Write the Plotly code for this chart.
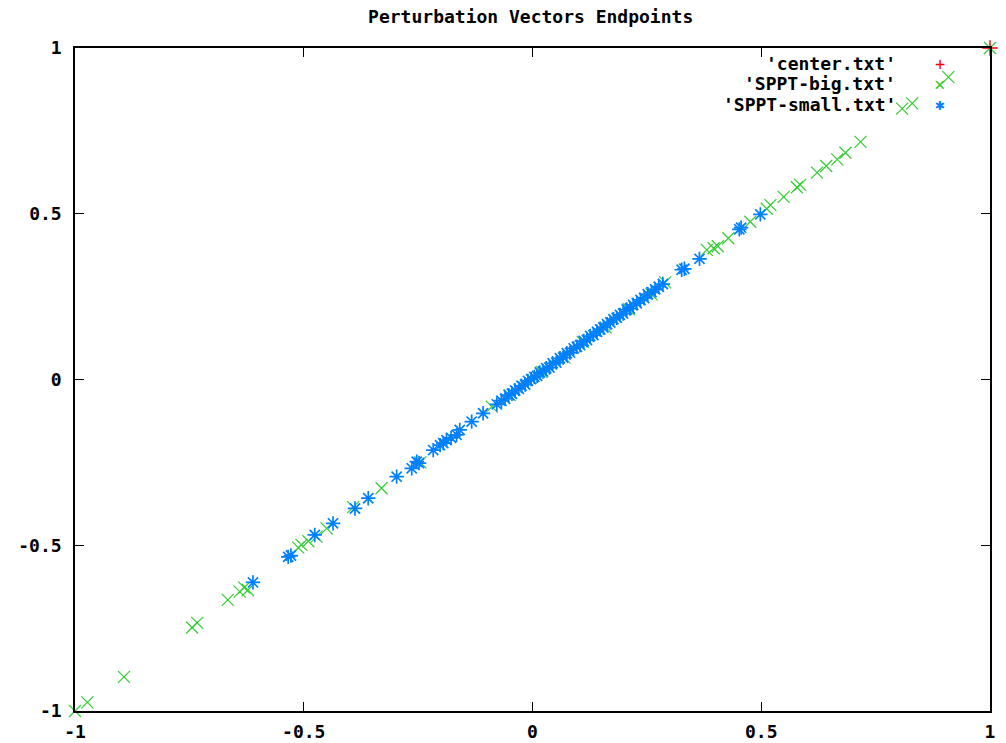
import plotly.graph_objects as go

title_text = "Perturbation Vectors Endpoints"
tick_vals = [-1, -0.5, 0, 0.5, 1]
tick_text = ["-1", "-0.5", "0", "0.5", "1"]

center_x = [1.0]
center_y = [1.0]

big_x = [-1.0, -0.973, -0.893, -0.744, -0.733, -0.666, -0.640, -0.630, -0.622, -0.512,
         -0.505, -0.490, -0.472, -0.450, -0.392, -0.330, -0.245, -0.089, -0.050, 0.020,
         0.070, 0.110, 0.160, 0.210, 0.260, 0.290, 0.381, 0.396, 0.405, 0.428,
         0.476, 0.512, 0.520, 0.549, 0.578, 0.585, 0.622, 0.642, 0.666, 0.684,
         0.717, 0.808, 0.830, 0.909, 1.0]
big_y = [-1.0, -0.974, -0.897, -0.748, -0.734, -0.665, -0.640, -0.628, -0.635, -0.507,
         -0.499, -0.488, -0.474, -0.449, -0.385, -0.328, -0.250, -0.082, -0.047, 0.023,
         0.066, 0.113, 0.157, 0.212, 0.257, 0.293, 0.391, 0.396, 0.402, 0.426,
         0.476, 0.515, 0.526, 0.551, 0.580, 0.587, 0.624, 0.644, 0.664, 0.684,
         0.717, 0.817, 0.833, 0.912, 1.0]

small_x = [-0.611, -0.534, -0.528, -0.476, -0.436, -0.388, -0.359, -0.297, -0.264, -0.253,
           -0.248, -0.217, -0.202, -0.195, -0.188, -0.178, -0.166, -0.159, -0.133, -0.108,
           -0.078, -0.068, -0.060, -0.052, -0.045, -0.038, -0.030, -0.024, -0.016, -0.010,
           -0.003, 0.004, 0.010, 0.016, 0.023, 0.030, 0.037, 0.044, 0.052, 0.060,
           0.067, 0.075, 0.082, 0.090, 0.097, 0.104, 0.112, 0.119, 0.126, 0.133,
           0.141, 0.148, 0.155, 0.163, 0.170, 0.177, 0.184, 0.191, 0.198, 0.206,
           0.213, 0.220, 0.228, 0.236, 0.244, 0.252, 0.260, 0.268, 0.276, 0.285,
           0.326, 0.332, 0.365, 0.452, 0.456, 0.498]
small_y = [-0.612, -0.535, -0.531, -0.469, -0.434, -0.389, -0.358, -0.293, -0.268, -0.248,
           -0.252, -0.213, -0.198, -0.192, -0.183, -0.176, -0.167, -0.152, -0.127, -0.102,
           -0.075, -0.064, -0.058, -0.047, -0.043, -0.033, -0.028, -0.019, -0.015, -0.004,
           0.001, 0.008, 0.011, 0.021, 0.024, 0.034, 0.036, 0.049, 0.051, 0.064,
           0.066, 0.079, 0.081, 0.094, 0.099, 0.104, 0.116, 0.119, 0.131, 0.134,
           0.144, 0.151, 0.157, 0.167, 0.172, 0.182, 0.186, 0.195, 0.199, 0.211,
           0.214, 0.225, 0.230, 0.240, 0.246, 0.257, 0.263, 0.272, 0.280, 0.288,
           0.331, 0.334, 0.364, 0.453, 0.458, 0.498]

legend_names = ["'center.txt'", "'SPPT-big.txt'", "'SPPT-small.txt'"]

RED = "#ff0000"
GREEN = "#33cc33"
BLUE = "#0080ff"
FONT = "DejaVu Sans Mono"

fig = go.Figure()
fig.add_trace(go.Scatter(x=big_x, y=big_y, mode="markers", name=legend_names[1],
                         marker=dict(symbol="x-thin", size=12, line=dict(color=GREEN, width=1.2), color=GREEN),
                         cliponaxis=False))
fig.add_trace(go.Scatter(x=small_x, y=small_y, mode="markers", name=legend_names[2],
                         marker=dict(symbol="asterisk-open", size=12, line=dict(color=BLUE, width=1.7), color=BLUE),
                         cliponaxis=False))
fig.add_trace(go.Scatter(x=center_x, y=center_y, mode="markers", name=legend_names[0],
                         marker=dict(symbol="cross-thin", size=11, line=dict(color=RED, width=1.4), color=RED),
                         cliponaxis=False))

axis_common = dict(
    tickvals=tick_vals, ticktext=tick_text, ticks="inside", ticklen=9, tickwidth=1,
    tickcolor="black", showline=True, linecolor="black", linewidth=1.5, mirror="allticks",
    showgrid=False, zeroline=False, range=[-1, 1], automargin=False,
    tickfont=dict(family=FONT, size=18, color="black", weight="bold"),
)
fig.update_xaxes(**axis_common, ticklabelstandoff=4)
fig.update_yaxes(**axis_common, ticklabelstandoff=8)

# Gnuplot-style legend: right-aligned text followed by a marker sample
rows_y = [0.976, 0.946, 0.9155]
samples = [("+", RED, 17), ("×", GREEN, 19), ("✱", BLUE, 16)]
anns = []
for name, yy, (sym, col, sz) in zip(legend_names, rows_y, samples):
    anns.append(dict(x=0.8995, y=yy, xref="paper", yref="paper", text=name, showarrow=False,
                     xanchor="right", yanchor="middle",
                     font=dict(family=FONT, size=18, color="black", weight="bold")))
    anns.append(dict(x=0.945, y=yy, xref="paper", yref="paper", text=sym, showarrow=False,
                     xanchor="center", yanchor="middle",
                     font=dict(family=FONT, size=sz, color=col)))

fig.update_layout(
    width=1006, height=743,
    margin=dict(l=75, r=16, t=48, b=32),
    plot_bgcolor="white", paper_bgcolor="white",
    showlegend=False,
    title=dict(text=title_text, x=0.5275, xanchor="center", y=0.978, yanchor="middle",
               font=dict(family=FONT, size=18, color="black", weight=600)),
    annotations=anns,
)

fig.write_html("out.html")
